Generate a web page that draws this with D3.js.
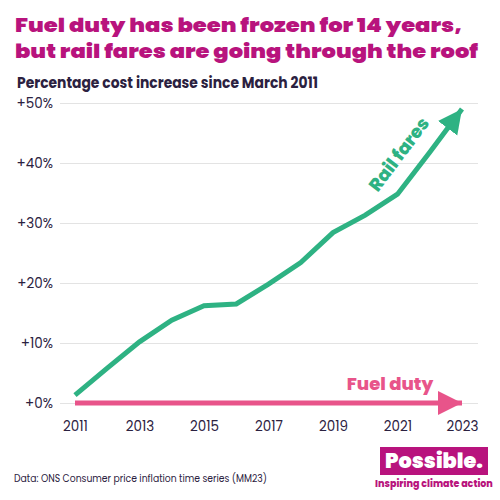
<!DOCTYPE html>
<html><head><meta charset="utf-8">
<script src="https://cdn.jsdelivr.net/npm/d3@7/dist/d3.min.js"></script>
<style>body{margin:0;background:#fff}svg{display:block}</style>
</head><body>
<script>
const years = [2011,2012,2013,2014,2015,2016,2017,2018,2019,2020,2021,2022,2023];
const railFares = [1.3,5.8,10.2,13.8,16.2,16.5,19.8,23.4,28.4,31.3,34.8,41.8,49];
const fuelYears = [2011,2023];
const fuelDuty = [0,0];
const yTicks = [0,10,20,30,40,50];
const xTicks = [2011,2013,2015,2017,2019,2021,2023];
const titleLines = ["Fuel duty has been frozen for 14 years,","but rail fares are going through the roof"];

const W=500,H=500;
const svg=d3.select("body").append("svg").attr("width",W).attr("height",H);
const font="Poppins, Lato, 'Open Sans', sans-serif";
const magenta="#b8137d", green="#2eb283", pink="#e8548a", dark="#2b2140";

const x=d3.scaleLinear().domain([2011,2023]).range([75,462]);
const y=d3.scaleLinear().domain([0,50]).range([403,103]);

// title
const tl=[447,463], ty=[32,58];
titleLines.forEach((t,i)=>{
  svg.append("text").attr("x",15).attr("y",ty[i]).attr("fill",magenta)
    .attr("font-family",font).attr("font-weight",900).attr("font-size",19.5)
    .attr("textLength",tl[i]).attr("lengthAdjust","spacingAndGlyphs").text(t);
});
svg.append("text").attr("x",17).attr("y",88).attr("fill",dark)
  .attr("font-family",font).attr("font-weight",700).attr("font-size",15)
  .attr("textLength",301).attr("lengthAdjust","spacingAndGlyphs")
  .text("Percentage cost increase since March 2011");

// grid + y labels
const yAxis=d3.axisLeft(y).tickValues(yTicks).tickSize(-(478-60)).tickFormat(d=>"+"+d+"%");
const gy=svg.append("g").attr("transform","translate(60,0)").call(yAxis);
gy.select(".domain").remove();
gy.selectAll(".tick line").attr("stroke","#e3e3e3").attr("stroke-width",1.2);
gy.selectAll(".tick text").attr("x",-7).attr("fill",dark).attr("font-family",font)
  .attr("font-size",13.5);

const xAxis=d3.axisBottom(x).tickValues(xTicks).tickSize(0).tickFormat(d3.format("d"));
const gx=svg.append("g").attr("transform","translate(0,416)").call(xAxis);
gx.select(".domain").remove();
gx.selectAll(".tick text").attr("fill",dark).attr("font-family",font).attr("font-size",13.5).attr("dy","0.9em");

// markers
const defs=svg.append("defs");
function marker(id,color){
  defs.append("marker").attr("id",id).attr("viewBox","0 0 10 10")
   .attr("refX",10).attr("refY",5).attr("markerUnits","userSpaceOnUse")
   .attr("markerWidth",24).attr("markerHeight",25).attr("orient","auto")
   .append("path").attr("d","M0,0L10,5L0,10Z").attr("fill",color);
}
marker("ag",green); marker("ap",pink);

const line=d3.line().x(d=>x(d[0])).y(d=>y(d[1]));
svg.append("path").datum(fuelYears.map((d,i)=>[d,fuelDuty[i]]))
  .attr("d",line).attr("fill","none").attr("stroke",pink).attr("stroke-width",5)
  .attr("marker-end","url(#ap)");
svg.append("path").datum(years.map((d,i)=>[d,railFares[i]]))
  .attr("d",line).attr("fill","none").attr("stroke",green).attr("stroke-width",5)
  .attr("stroke-linejoin","miter").attr("marker-end","url(#ag)");

// labels
svg.append("text").attr("x",390).attr("y",390).attr("text-anchor","middle")
  .attr("fill",pink).attr("font-family",font).attr("font-weight",800).attr("font-size",18)
  .text("Fuel duty");
svg.append("text").attr("transform","translate(404,158) rotate(-53)").attr("text-anchor","middle")
  .attr("fill",green).attr("font-family",font).attr("font-weight",800).attr("font-size",18)
  .text("Rail fares");

// footer
svg.append("text").attr("x",14).attr("y",482).attr("fill",dark).attr("font-family",font)
  .attr("font-size",11).attr("textLength",253).attr("lengthAdjust","spacingAndGlyphs")
  .text("Data: ONS Consumer price inflation time series (MM23)");
svg.append("rect").attr("x",380).attr("y",447).attr("width",108).attr("height",28).attr("fill",magenta);
svg.append("text").attr("x",434).attr("y",468).attr("text-anchor","middle").attr("fill","#fff")
  .attr("font-family",font).attr("font-weight",900).attr("font-size",20)
  .attr("textLength",98).attr("lengthAdjust","spacingAndGlyphs").text("Possible.");
svg.append("text").attr("x",434).attr("y",487).attr("text-anchor","middle").attr("fill",magenta)
  .attr("font-family",font).attr("font-weight",800).attr("font-size",9.5)
  .text("Inspiring climate action");
</script>
</body></html>
